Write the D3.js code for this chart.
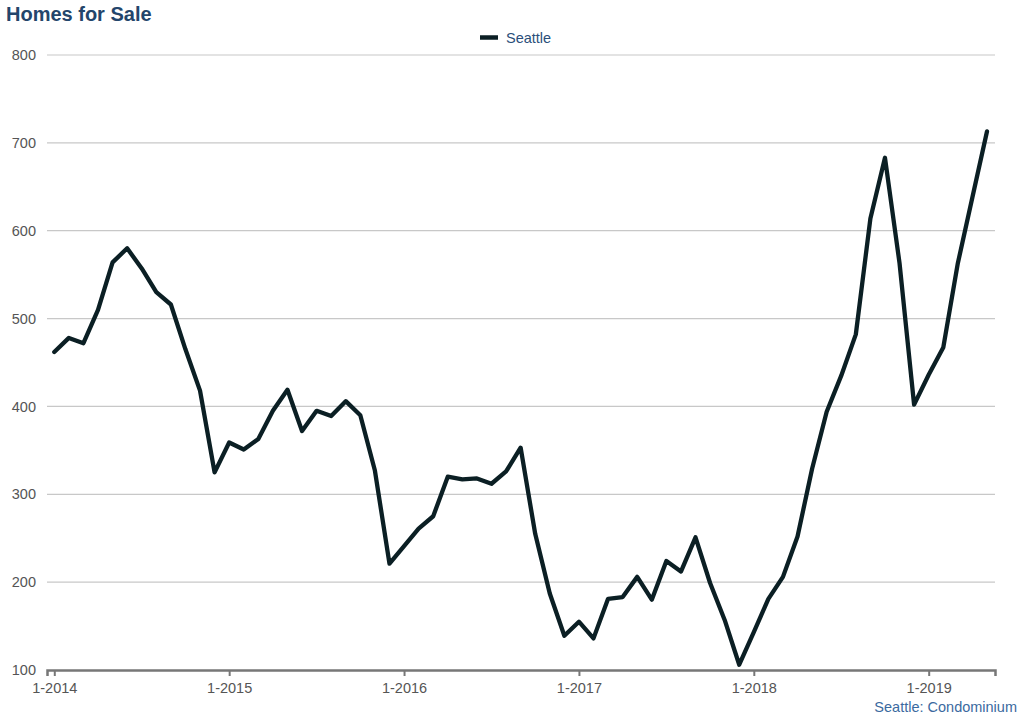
<!DOCTYPE html>
<html>
<head>
<meta charset="utf-8">
<script src="https://cdn.jsdelivr.net/npm/d3@7"></script>
<style>
  body { margin: 0; background: #fff; font-family: "Liberation Sans", Arial, sans-serif; }
</style>
</head>
<body>
<div id="my_dataviz"></div>
<script>
// monthly values, Jan 2014 .. May 2019
var values2014 = [462, 478, 472, 510, 564, 580, 557, 530, 516, 465, 418, 325];
var values2015 = [359, 351, 363, 395, 419, 372, 395, 389, 406, 390, 327, 221];
var values2016 = [241, 261, 275, 320, 317, 318, 312, 326, 353, 255, 187, 139];
var values2017 = [155, 136, 181, 183, 206, 180, 224, 212, 251, 199, 157, 106];
var values2018 = [143, 181, 206, 252, 329, 394, 435, 482, 614, 683, 563, 402];
var values2019 = [436, 467, 563, 638, 713];
var yTicks = [100, 200, 300, 400, 500, 600, 700, 800];
var xTickYears = [2014, 2015, 2016, 2017, 2018, 2019];
var seriesName = "Seattle";

var values = [].concat(values2014, values2015, values2016, values2017, values2018, values2019);
// month index from Jan 2014
var data = values.map(function(v, i) {
  return { month: i, value: v };
});

var margin = {top: 55, right: 29, bottom: 49, left: 47},
    width = 1024 - margin.left - margin.right,
    height = 719 - margin.top - margin.bottom;

var svg = d3.select("#my_dataviz")
  .append("svg")
    .attr("width", 1024)
    .attr("height", 719);

var g = svg.append("g")
    .attr("transform", "translate(" + margin.left + "," + margin.top + ")");

var x = d3.scaleLinear()
  .domain([-0.5, 64.55])
  .range([0, width]);

var y = d3.scaleLinear()
  .domain([100, 800])
  .range([height, 0]);

// gridlines
g.append("g")
  .selectAll("line")
  .data(yTicks.slice(1))
  .enter()
  .append("line")
    .attr("x1", 0)
    .attr("x2", width)
    .attr("y1", function(d) { return y(d); })
    .attr("y2", function(d) { return y(d); })
    .attr("stroke", "#c8c8c8")
    .attr("stroke-width", 1.2);

// y labels
g.append("g")
  .selectAll("text")
  .data(yTicks)
  .enter()
  .append("text")
    .attr("x", -11)
    .attr("y", function(d) { return y(d); })
    .attr("dy", "0.35em")
    .attr("text-anchor", "end")
    .style("font-size", "14.5px")
    .style("fill", "#555")
    .text(function(d) { return d; });

// x axis
var xAxis = g.append("g")
  .attr("transform", "translate(0," + height + ")")
  .call(d3.axisBottom(x)
    .tickValues(xTickYears.map(function(yr) { return (yr - 2014) * 12; }))
    .tickSize(6)
    .tickPadding(7)
    .tickFormat(function(d) { return "1-" + (2014 + d / 12); }));
xAxis.select(".domain").attr("stroke", "#777").attr("stroke-width", 2.5);
xAxis.selectAll(".tick line").attr("stroke", "#777").attr("stroke-width", 2).attr("y1", 0);
xAxis.selectAll(".tick text")
  .style("font-family", "Liberation Sans, Arial, sans-serif")
  .style("font-size", "14.5px")
  .style("fill", "#555");

// the line
g.append("path")
  .datum(data)
  .attr("fill", "none")
  .attr("stroke", "#0b1f24")
  .attr("stroke-width", 4.3)
  .attr("stroke-linejoin", "round")
  .attr("stroke-linecap", "round")
  .attr("d", d3.line()
    .x(function(d) { return x(d.month); })
    .y(function(d) { return y(d.value); }));

// title
svg.append("text")
  .attr("x", 6)
  .attr("y", 21)
  .style("font-size", "20px")
  .style("font-weight", "bold")
  .style("fill", "#23456b")
  .text("Homes for Sale");

// legend
svg.append("line")
  .attr("x1", 480).attr("x2", 498)
  .attr("y1", 37.5).attr("y2", 37.5)
  .attr("stroke", "#0b1f24")
  .attr("stroke-width", 4.5);
svg.append("text")
  .attr("x", 506)
  .attr("y", 37.5)
  .attr("dy", "0.35em")
  .style("font-size", "14.5px")
  .style("fill", "#2b4f7a")
  .text(seriesName);

// source note
svg.append("text")
  .attr("x", 1017)
  .attr("y", 712)
  .attr("text-anchor", "end")
  .style("font-size", "14.5px")
  .style("fill", "#3b6aa0")
  .text("Seattle: Condominium");
</script>
</body>
</html>
